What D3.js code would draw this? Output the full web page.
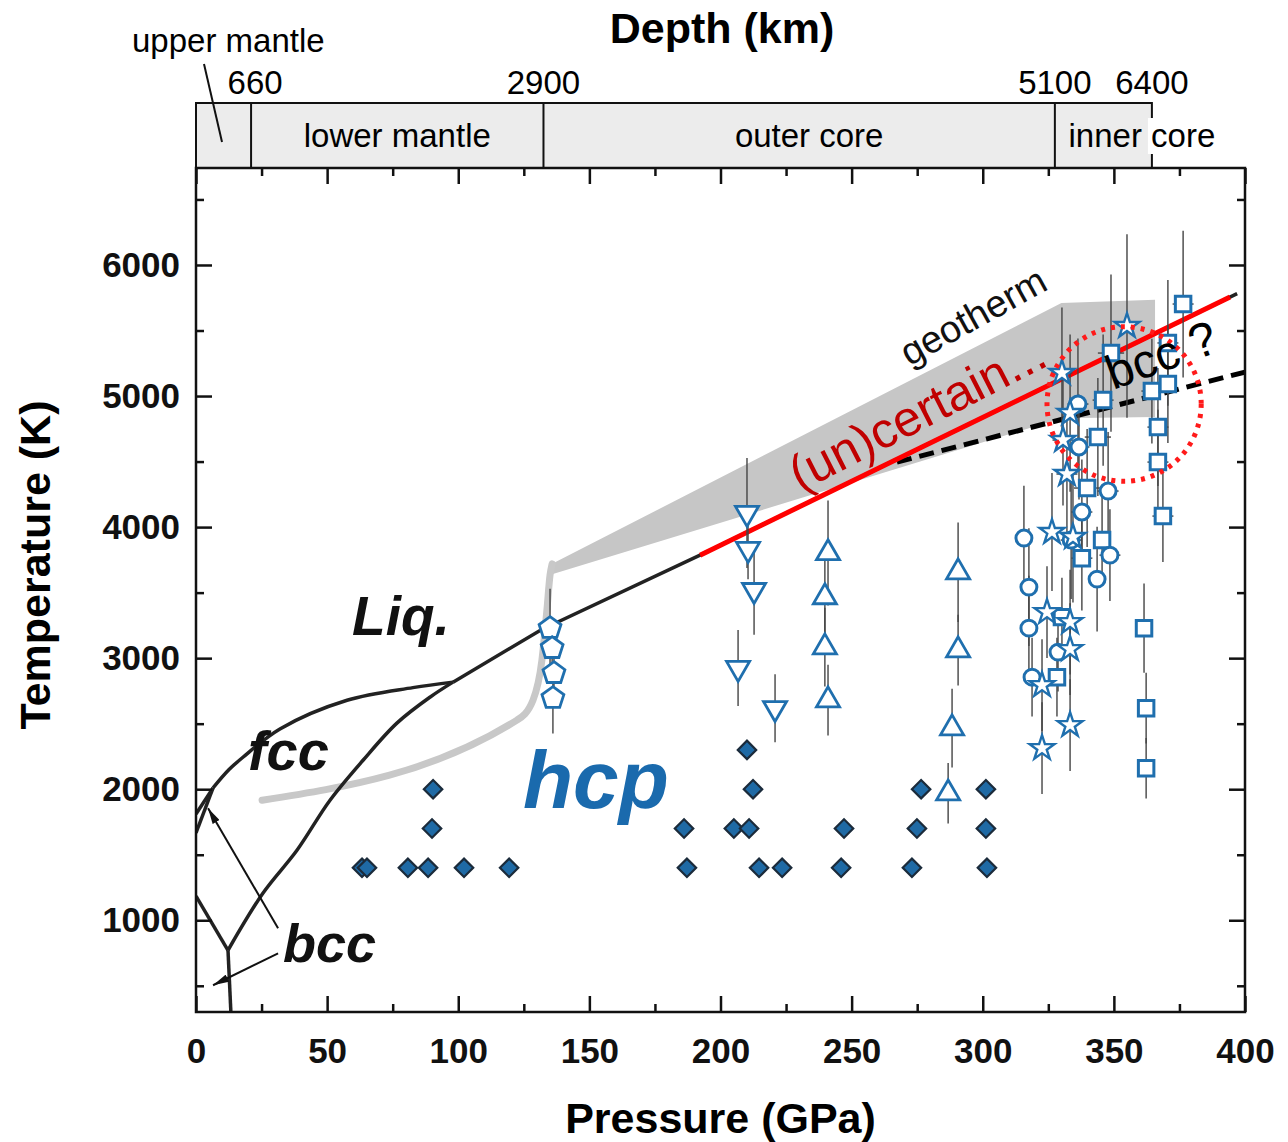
<!DOCTYPE html>
<html>
<head>
<meta charset="utf-8">
<script src="https://cdn.jsdelivr.net/npm/d3@7"></script>
<style>
  body { margin: 0; background: #fff; }
  svg text { font-family: "Liberation Sans", Arial, Helvetica, sans-serif; }
</style>
</head>
<body>
<div id="chart"></div>
<script>
// ---- data: pressure (GPa), temperature (K) ----
const xMajorTicks = [0, 50, 100, 150, 200, 250, 300, 350, 400];
const xMinorTicks = [25, 75, 125, 175, 225, 275, 325, 375];
const yMajorTicks = [1000, 2000, 3000, 4000, 5000, 6000];
const yMinorTicks = [500, 1500, 2500, 3500, 4500, 5500, 6500];

const depthLabels = ['660', '2900', '5100', '6400'];
const depthPressure = [21, 132.5, 327.5, 364.5];
const layerNames = ['upper mantle', 'lower mantle', 'outer core', 'inner core'];

// phase boundaries
const deltaMeltLine = [[0, 1811], [6.5, 2010]];
const deltaFccLine = [[0, 1667], [6.5, 2010]];
const alphaFccLine = [[0, 1185], [12.2, 771]];
const alphaHcpLine = [[12.2, 771], [13.3, 300]];
const fccHcpLine = [[12.2, 771], [25.5, 1206], [38.5, 1534], [51.1, 1916], [63.7, 2221],
  [76.6, 2504], [89.2, 2702], [98, 2817]];
const fccMeltLine = [[6.5, 2010], [12.6, 2150], [17.9, 2244], [32, 2460], [57.6, 2679],
  [82.7, 2775], [98, 2817]];
const hcpMeltLine = [[98, 2817], [131.5, 3215], [192.2, 3786], [397, 5782]];
const hcpMeltRed = [[192.2, 3786], [394.3, 5756]];
const bccDashed = [[267.3, 4496], [400, 5183]];

// geotherm
const geothermMantle = [[25.2, 1916], [122.4, 2527], [128.5, 2679], [131.9, 2985],
  [133.8, 3366], [135, 3634], [135.8, 3720]];
const geothermCoreP = [135.8, 330, 365.7];
const geothermCoreHi = [3720, 5710, 5735];
const geothermCoreLo = [3640, 4830, 4840];

// experiments: [P, T, errT, errP]
const diamonds = [[63.3, 1400], [65.2, 1400], [80.8, 1400], [88.5, 1400], [102.2, 1400],
  [119.4, 1400], [187.2, 1400], [214.7, 1400], [223.5, 1400], [246, 1400], [273, 1400],
  [301.6, 1400], [90, 1700], [186.1, 1700], [205.1, 1700], [210.9, 1700], [247.1, 1700],
  [274.9, 1700], [301.2, 1700], [90.4, 2000], [212.4, 2000], [276.5, 2000], [301.2, 2000],
  [210.1, 2300]];
const pentagons = [[135, 3229, 300, 0], [135.8, 3076, 230, 0], [136.5, 2885, 200, 0],
  [136.1, 2695, 270, 0]];
const downTriangles = [[210.1, 4107, 420, 3], [210.5, 3832, 230, 3], [212.8, 3519, 340, 3],
  [206.7, 2924, 290, 0], [220.8, 2618, 260, 0]];
const upTriangles = [[241, 3802, 400, 3], [239.8, 3466, 300, 3], [239.8, 3084, 300, 0],
  [241, 2679, 270, 0], [290.6, 3656, 380, 3], [290.6, 3061, 270, 0], [288.3, 2466, 300, 0],
  [286.8, 1969, 230, 0]];
const squares = [[376.4, 5702, 560, 4], [370.6, 5405, 480, 4], [348.9, 5328, 600, 5],
  [345.9, 4969, 500, 4], [364.5, 5038, 400, 4], [370.6, 5092, 450, 3], [366.8, 4763, 450, 4],
  [343.9, 4687, 450, 5], [366.8, 4496, 400, 4], [339.8, 4298, 450, 5], [368.7, 4084, 350, 4],
  [345.5, 3901, 350, 3], [337.8, 3763, 400, 4], [361.5, 3229, 340, 0], [330.2, 3313, 300, 3],
  [328.3, 2855, 300, 3], [362.3, 2618, 270, 0], [362.3, 2160, 230, 0]];
const circles = [[336.3, 4939, 500, 4], [336.7, 4611, 400, 4], [347.8, 4275, 450, 4],
  [337.8, 4115, 400, 4], [315.7, 3916, 400, 3], [333.7, 3901, 450, 4], [348.5, 3786, 350, 4],
  [343.6, 3603, 400, 3], [317.6, 3542, 450, 3], [317.6, 3229, 400, 0], [328.7, 3046, 300, 3],
  [318.8, 2855, 300, 3]];
const stars = [[355, 5534, 700, 0], [330.2, 5176, 500, 4], [333.3, 4870, 600, 0],
  [330.6, 4664, 500, 4], [332.1, 4405, 500, 4], [326.4, 3962, 450, 3], [334.4, 3924, 500, 3],
  [324.5, 3351, 350, 0], [333.3, 3275, 400, 0], [333.3, 3069, 350, 0], [322.6, 2794, 350, 0],
  [333.3, 2489, 350, 0], [322.6, 2313, 350, 0]];

// ---- layout ----
const width = 1288;
const height = 1142;
const blue = '#1f6fae';

let x = d3.scaleLinear().domain([0, 400]).range([196, 1245]);
let y = d3.scaleLinear().domain([300, 6740]).range([1012, 168]);

let svg = d3.select('#chart').append('svg')
    .attr('width', width)
    .attr('height', height);

let defs = svg.append('defs');
defs.append('marker')
    .attr('id', 'arrow')
    .attr('viewBox', '0 0 16 8')
    .attr('refX', 16)
    .attr('refY', 4)
    .attr('markerWidth', 16)
    .attr('markerHeight', 8)
    .attr('markerUnits', 'userSpaceOnUse')
    .attr('orient', 'auto')
  .append('path')
    .attr('d', 'M0,0L16,4L0,8Z')
    .attr('fill', '#111');
defs.append('clipPath').attr('id', 'plot-clip')
  .append('rect')
    .attr('x', x(0)).attr('y', y(6740))
    .attr('width', x(400) - x(0)).attr('height', y(300) - y(6740));

// ---- depth band ----
let band = svg.append('g');
band.append('rect')
    .attr('x', x(0))
    .attr('y', 103)
    .attr('width', x(depthPressure[3]) - x(0))
    .attr('height', y(6740) - 103)
    .attr('fill', '#ececec')
    .attr('stroke', '#111')
    .attr('stroke-width', 2);
band.selectAll('line.div')
    .data(depthPressure.slice(0, 3))
  .enter().append('line')
    .attr('x1', (d) => x(d)).attr('x2', (d) => x(d))
    .attr('y1', 103).attr('y2', y(6740))
    .attr('stroke', '#111').attr('stroke-width', 2);
band.selectAll('text.depth')
    .data(depthLabels)
  .enter().append('text')
    .attr('x', (d, i) => x(depthPressure[i]) + (i === 0 ? 4 : 0))
    .attr('y', 94)
    .attr('text-anchor', 'middle')
    .attr('font-size', 33)
    .text((d) => d);
// white gap where "core" crosses the right border
band.append('rect')
    .attr('x', x(depthPressure[3]) - 4).attr('y', 118)
    .attr('width', 9).attr('height', 36)
    .attr('fill', '#fff');
const layerX = [null, (x(depthPressure[0]) + x(depthPressure[1])) / 2,
  (x(depthPressure[1]) + x(depthPressure[2])) / 2 + 10, x(depthPressure[3]) - 10];
layerNames.forEach(function(name, i) {
  if (i === 0) {
    band.append('text')
        .attr('x', 132).attr('y', 52)
        .attr('font-size', 33)
        .text(name);
    band.append('line')
        .attr('x1', 204).attr('y1', 64)
        .attr('x2', 222).attr('y2', 142)
        .attr('stroke', '#111').attr('stroke-width', 2);
  } else {
    band.append('text')
        .attr('x', layerX[i]).attr('y', 147)
        .attr('text-anchor', 'middle')
        .attr('font-size', 33)
        .text(name);
  }
});
svg.append('text')
    .attr('x', 722).attr('y', 43)
    .attr('text-anchor', 'middle')
    .attr('font-size', 43).attr('font-weight', 'bold')
    .text('Depth (km)');

// ---- plot contents ----
let g = svg.append('g').attr('clip-path', 'url(#plot-clip)');
let line = d3.line().x((d) => x(d[0])).y((d) => y(d[1]));
let smooth = d3.line().x((d) => x(d[0])).y((d) => y(d[1])).curve(d3.curveCatmullRom.alpha(0.5));

// geotherm band
g.append('path')
    .datum(geothermCoreP)
    .attr('d', d3.area()
      .x((d) => x(d))
      .y0((d, i) => y(geothermCoreLo[i]))
      .y1((d, i) => y(geothermCoreHi[i])))
    .attr('fill', '#c6c6c6');
g.append('path')
    .datum(geothermMantle)
    .attr('d', d3.line().x((d) => x(d[0])).y((d) => y(d[1])).curve(d3.curveMonotoneX))
    .attr('fill', 'none')
    .attr('stroke', '#c8c8c8')
    .attr('stroke-width', 7)
    .attr('stroke-linecap', 'round');

// phase boundaries
const phaseLines = [deltaMeltLine, deltaFccLine, alphaFccLine, alphaHcpLine, hcpMeltLine];
phaseLines.forEach(function(pts) {
  g.append('path')
      .datum(pts)
      .attr('d', line)
      .attr('fill', 'none')
      .attr('stroke', '#222')
      .attr('stroke-width', 3.5);
});
[fccHcpLine, fccMeltLine].forEach(function(pts) {
  g.append('path')
      .datum(pts)
      .attr('d', smooth)
      .attr('fill', 'none')
      .attr('stroke', '#222')
      .attr('stroke-width', 3.5);
});
g.append('path')
    .datum(bccDashed)
    .attr('d', line)
    .attr('stroke', '#000')
    .attr('stroke-width', 5)
    .attr('stroke-dasharray', '15,8');
g.append('path')
    .datum(hcpMeltRed)
    .attr('d', line)
    .attr('stroke', '#ff0000')
    .attr('stroke-width', 5);

// error bars
const withErrors = [].concat(pentagons, downTriangles, upTriangles, squares, circles, stars);
g.selectAll('line.ebar-t')
    .data(withErrors)
  .enter().append('line')
    .attr('x1', (d) => x(d[0])).attr('x2', (d) => x(d[0]))
    .attr('y1', (d) => y(d[1] - d[2])).attr('y2', (d) => y(d[1] + d[2]))
    .attr('stroke', '#444').attr('stroke-width', 1.4);
g.selectAll('line.ebar-p')
    .data(withErrors.filter((d) => d[3] > 0))
  .enter().append('line')
    .attr('x1', (d) => x(d[0] - d[3])).attr('x2', (d) => x(d[0] + d[3]))
    .attr('y1', (d) => y(d[1])).attr('y2', (d) => y(d[1]))
    .attr('stroke', '#444').attr('stroke-width', 1.4);

// markers
function pentagonPath(r) {
  let pts = d3.range(5).map(function(i) {
    let a = -Math.PI / 2 + i * 2 * Math.PI / 5;
    return [r * Math.cos(a), r * Math.sin(a)];
  });
  return 'M' + pts.join('L') + 'Z';
}
function drawMarkers(data, pathStr, rotate, fill, stroke, sw) {
  g.append('g').selectAll('path')
      .data(data)
    .enter().append('path')
      .attr('transform', (d) => 'translate(' + x(d[0]) + ',' + y(d[1]) + ') rotate(' + rotate + ')')
      .attr('d', pathStr)
      .attr('fill', fill)
      .attr('stroke', stroke)
      .attr('stroke-width', sw);
}
drawMarkers(diamonds, d3.symbol(d3.symbolSquare, 170)(), 45, '#1f6aa5', '#1b2b3b', 2.2);
drawMarkers(pentagons, pentagonPath(11.5), 0, '#fff', blue, 2.8);
drawMarkers(downTriangles, d3.symbol(d3.symbolTriangle, 230)(), 180, '#fff', blue, 2.8);
drawMarkers(upTriangles, d3.symbol(d3.symbolTriangle, 230)(), 0, '#fff', blue, 2.8);
drawMarkers(squares, d3.symbol(d3.symbolSquare, 240)(), 0, '#fff', blue, 3);
drawMarkers(circles, d3.symbol(d3.symbolCircle, 200)(), 0, '#fff', blue, 3);
drawMarkers(stars, d3.symbol(d3.symbolStar, 190)(), 0, '#fff', blue, 2.4);

// dotted circle around the bcc? region
g.append('ellipse')
    .attr('cx', x(353.9)).attr('cy', y(4939))
    .attr('rx', x(29.4) - x(0)).attr('ry', y(4939 - 590) - y(4939))
    .attr('fill', 'none')
    .attr('stroke', '#ff1a1a')
    .attr('stroke-width', 5)
    .attr('stroke-dasharray', '4,6');

// ---- axes ----
function styleAxis(sel) {
  sel.select('.domain').remove();
  sel.selectAll('.tick line').attr('stroke', '#111').attr('stroke-width', 2.5);
  sel.selectAll('.tick text')
      .attr('font-family', '"Liberation Sans", Arial, sans-serif')
      .attr('font-size', 35)
      .attr('font-weight', 'bold')
      .attr('fill', '#111');
}
svg.append('g')
    .attr('transform', 'translate(0,' + y(300) + ')')
    .call(d3.axisBottom(x).tickValues(xMajorTicks).tickSize(-16).tickPadding(26)
      .tickFormat(d3.format('d')))
    .call(styleAxis);
svg.append('g')
    .attr('transform', 'translate(0,' + y(300) + ')')
    .call(d3.axisBottom(x).tickValues(xMinorTicks).tickSize(-8).tickFormat(''))
    .call(styleAxis);
svg.append('g')
    .attr('transform', 'translate(0,' + y(6740) + ')')
    .call(d3.axisTop(x).tickValues(xMajorTicks).tickSize(-16).tickFormat(''))
    .call(styleAxis);
svg.append('g')
    .attr('transform', 'translate(0,' + y(6740) + ')')
    .call(d3.axisTop(x).tickValues(xMinorTicks).tickSize(-8).tickFormat(''))
    .call(styleAxis);
svg.append('g')
    .attr('transform', 'translate(' + x(0) + ',0)')
    .call(d3.axisLeft(y).tickValues(yMajorTicks).tickSize(-16).tickPadding(16)
      .tickFormat(d3.format('d')))
    .call(styleAxis);
svg.append('g')
    .attr('transform', 'translate(' + x(0) + ',0)')
    .call(d3.axisLeft(y).tickValues(yMinorTicks).tickSize(-8).tickFormat(''))
    .call(styleAxis);
svg.append('g')
    .attr('transform', 'translate(' + x(400) + ',0)')
    .call(d3.axisRight(y).tickValues(yMajorTicks).tickSize(-16).tickFormat(''))
    .call(styleAxis);
svg.append('g')
    .attr('transform', 'translate(' + x(400) + ',0)')
    .call(d3.axisRight(y).tickValues(yMinorTicks).tickSize(-8).tickFormat(''))
    .call(styleAxis);

svg.append('rect')
    .attr('x', x(0)).attr('y', y(6740))
    .attr('width', x(400) - x(0)).attr('height', y(300) - y(6740))
    .attr('fill', 'none')
    .attr('stroke', '#111')
    .attr('stroke-width', 2.5);

svg.append('text')
    .attr('x', (x(0) + x(400)) / 2).attr('y', 1133)
    .attr('text-anchor', 'middle')
    .attr('font-size', 43).attr('font-weight', 'bold')
    .text('Pressure (GPa)');
svg.append('text')
    .attr('transform', 'translate(50,565) rotate(-90)')
    .attr('text-anchor', 'middle')
    .attr('font-size', 43).attr('font-weight', 'bold')
    .text('Temperature (K)');

// ---- annotations ----
function label(txt, P, T, opts) {
  let t = svg.append('text')
      .attr('transform', 'translate(' + x(P) + ',' + y(T) + ') rotate(' + (opts.rotate || 0) + ')')
      .attr('font-size', opts.size)
      .attr('fill', opts.color || '#111')
      .text(txt);
  if (opts.bold) t.attr('font-weight', 'bold');
  if (opts.italic) t.attr('font-style', 'italic');
  return t;
}
label('Liq.', 59.5, 3176, {size: 55, bold: true, italic: true});
label('fcc', 19.8, 2145, {size: 56, bold: true, italic: true});
label('bcc', 33.2, 679, {size: 54, bold: true, italic: true});
label('hcp', 124.7, 1855, {size: 82, bold: true, italic: true, color: '#1a6aad'});
label('geotherm', 272, 5225, {size: 38, rotate: -29});
label('(un)certain...', 230.3, 4267, {size: 50, rotate: -27, color: '#c00000'});
label('bcc ?', 349.7, 5046, {size: 48, rotate: -20, color: '#000'});

// arrows from the bcc label
const arrowFrom = [[31.3, 939], [31.3, 748]];
const arrowTo = [[4.6, 1855], [6.5, 504]];
arrowFrom.forEach(function(p, i) {
  svg.append('line')
      .attr('x1', x(p[0])).attr('y1', y(p[1]))
      .attr('x2', x(arrowTo[i][0])).attr('y2', y(arrowTo[i][1]))
      .attr('stroke', '#111')
      .attr('stroke-width', 2)
      .attr('marker-end', 'url(#arrow)');
});
</script>
</body>
</html>
